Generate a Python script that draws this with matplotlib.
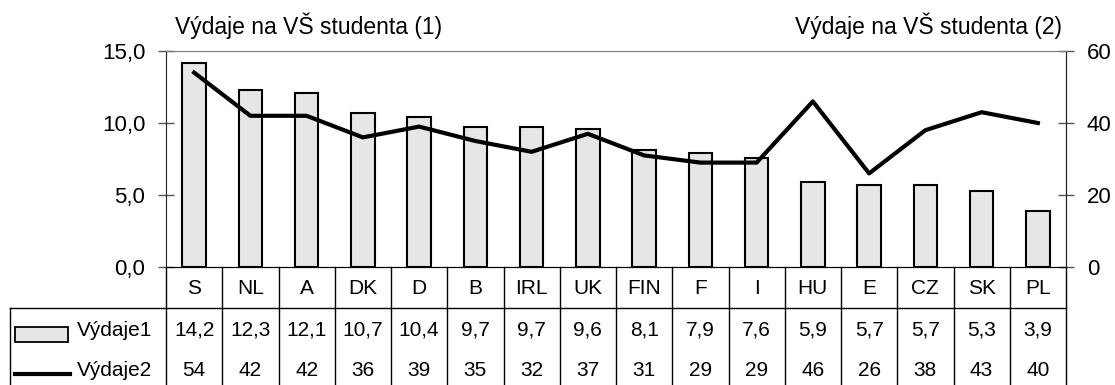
import matplotlib.pyplot as plt
import numpy as np
from matplotlib.patches import Rectangle
from matplotlib.lines import Line2D

plt.rcParams['font.family'] = ['Liberation Sans', 'DejaVu Sans']

countries = ["S", "NL", "A", "DK", "D", "B", "IRL", "UK", "FIN", "F", "I", "HU", "E", "CZ", "SK", "PL"]
vydaje1 = [14.2, 12.3, 12.1, 10.7, 10.4, 9.7, 9.7, 9.6, 8.1, 7.9, 7.6, 5.9, 5.7, 5.7, 5.3, 3.9]
vydaje2 = [54, 42, 42, 36, 39, 35, 32, 37, 31, 29, 29, 46, 26, 38, 43, 40]
label1 = "Výdaje1"
label2 = "Výdaje2"
title1 = "Výdaje na VŠ studenta (1)"
title2 = "Výdaje na VŠ studenta (2)"

W, H = 1115, 385
fig = plt.figure(figsize=(W / 100, H / 100), dpi=100)
ax = fig.add_axes([166 / W, 1 - 267 / H, 900 / W, 216 / H])
ax2 = ax.twinx()

n = len(countries)
x = np.arange(n)
ax.bar(x, vydaje1, width=0.42, color="#e6e6e6", edgecolor="black", linewidth=1.5, zorder=2)
ax2.plot(x, vydaje2, color="black", linewidth=3, zorder=3)

ax.set_xlim(-0.5, n - 0.5)
ax.set_ylim(0, 15)
ax2.set_ylim(0, 60)
ax.set_yticks([0, 5, 10, 15])
ax.set_yticklabels(["0,0", "5,0", "10,0", "15,0"])
ax2.set_yticks([0, 20, 40, 60])
ax.set_xticks([])
for a in (ax, ax2):
    a.tick_params(axis="y", labelsize=16, length=12, width=1, color="#555555",
                  pad=9, direction="inout")
ax.spines["top"].set_color("#808080")
ax2.spines["top"].set_color("#808080")
ax.spines["left"].set_color("#222222")
ax2.spines["right"].set_color("#222222")
ax2.spines["left"].set_visible(False)

# titles
fig.text(175 / W, 1 - 26 / H, title1, fontsize=16.5, va="center", ha="left")
fig.text(1062 / W, 1 - 26 / H, title2, fontsize=16.5, va="center", ha="right")

# data table (figure pixel coords)
def fx(px):
    return px / W

def fy(py):
    return 1 - py / H

tr = fig.transFigure
x0, x1 = 166, 1066
cw = (x1 - x0) / n
lw = 1.0
fs = 15
for i in range(n + 1):
    xp = x0 + i * cw
    fig.add_artist(Line2D([fx(xp), fx(xp)], [fy(267), fy(385)], color="black", lw=lw, transform=tr))
fig.add_artist(Line2D([fx(10), fx(10)], [fy(308), fy(385)], color="black", lw=lw, transform=tr))
fig.add_artist(Line2D([fx(10), fx(x1)], [fy(308), fy(308)], color="black", lw=lw, transform=tr))

for i in range(n):
    xc = fx(x0 + (i + 0.5) * cw)
    fig.text(xc, fy(288), countries[i], ha="center", va="center", fontsize=fs)
    fig.text(xc, fy(330), f"{vydaje1[i]:.1f}".replace(".", ","), ha="center", va="center", fontsize=fs)
    fig.text(xc, fy(370), str(vydaje2[i]), ha="center", va="center", fontsize=fs)

# legend keys
fig.add_artist(Rectangle((fx(15), fy(342)), fx(68) - fx(15), fy(327) - fy(342),
                         facecolor="#e6e6e6", edgecolor="black", lw=1.3, transform=tr))
fig.text(fx(77), fy(330), label1, ha="left", va="center", fontsize=fs)
fig.add_artist(Line2D([fx(15), fx(70)], [fy(374), fy(374)], color="black", lw=3, transform=tr))
fig.text(fx(77), fy(370), label2, ha="left", va="center", fontsize=fs)

fig.savefig("out.png", dpi=100)
